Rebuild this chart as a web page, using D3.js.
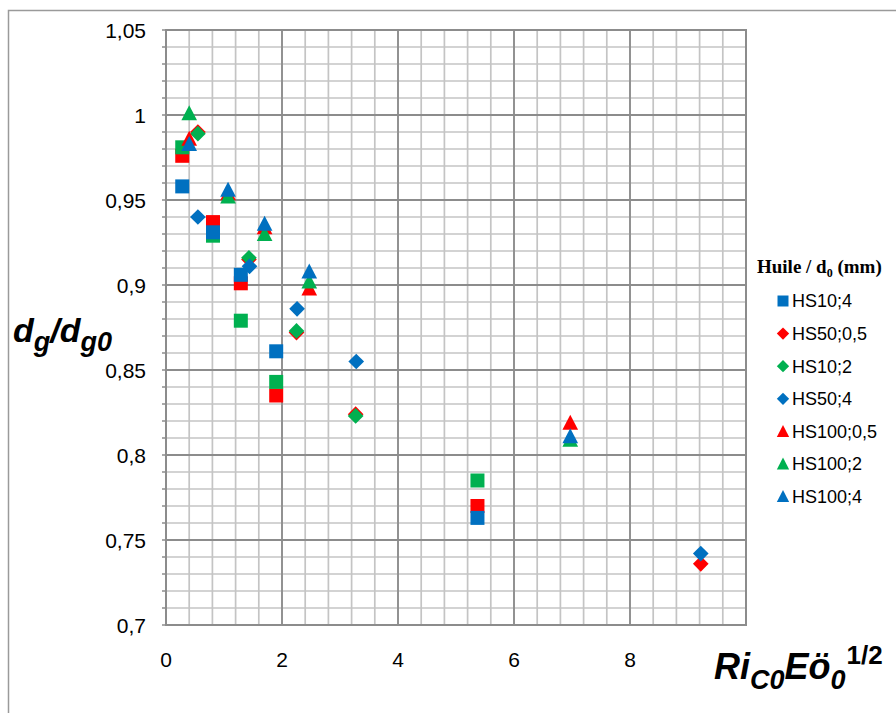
<!DOCTYPE html>
<html><head><meta charset="utf-8">
<script src="https://cdn.jsdelivr.net/npm/d3@7"></script>
<style>body{margin:0;background:#fff}svg{display:block}</style>
</head><body>
<svg id="c" width="896" height="713"></svg>
<script>
// ---- data ----
const xTicks = [0, 2, 4, 6, 8];
const xTickLabels = ["0", "2", "4", "6", "8"];
const yTicks = [0.7, 0.75, 0.8, 0.85, 0.9, 0.95, 1, 1.05];
const yTickLabels = ["0,7", "0,75", "0,8", "0,85", "0,9", "0,95", "1", "1,05"];

// squares
const xSquares = [0.28, 0.81, 1.29, 1.90, 5.37];
const ySqRed = [0.976, 0.937, 0.901, 0.835, 0.770];
const ySqGreen = [0.981, 0.929, 0.879, 0.843, 0.785];
const yHS10_4 = [0.958, 0.931, 0.906, 0.861, 0.763];
// diamonds
const xDiamonds = [0.55, 1.43, 2.25, 3.27, 9.22];
const yHS50_05 = [0.990, 0.915, 0.872, 0.824, 0.736];
const yHS10_2 = [0.989, 0.916, 0.873, 0.823];
const xHS50_4 = [0.55, 1.44, 2.26, 3.28, 9.22];
const yHS50_4 = [0.940, 0.911, 0.886, 0.855, 0.742];
// triangles
const xTriangles = [0.40, 1.07, 1.70, 2.47, 6.97];
const yHS100_05 = [0.986, 0.954, 0.934, 0.898, 0.819];
const yHS100_2 = [1.001, 0.952, 0.930, 0.902, 0.809];
const yHS100_4 = [0.983, 0.956, 0.936, 0.908, 0.811];

const legendNames = ["HS10;4", "HS50;0,5", "HS10;2", "HS50;4", "HS100;0,5", "HS100;2", "HS100;4"];
const legendShapes = ["square", "diamond", "diamond", "diamond", "triangle", "triangle", "triangle"];
const legendColors = ["#0070C0", "#FF0000", "#00B050", "#0070C0", "#FF0000", "#00B050", "#0070C0"];

const RED = "#FF0000", GREEN = "#00B050", BLUE = "#0070C0";
// drawing order (later on top)
const series = [
  {xs: xSquares, ys: ySqRed, shape: "square", color: RED},
  {xs: xSquares, ys: ySqGreen, shape: "square", color: GREEN},
  {xs: xSquares, ys: yHS10_4, shape: "square", color: BLUE},
  {xs: xDiamonds, ys: yHS50_05, shape: "diamond", color: RED},
  {xs: xDiamonds, ys: yHS10_2, shape: "diamond", color: GREEN},
  {xs: xHS50_4, ys: yHS50_4, shape: "diamond", color: BLUE},
  {xs: xTriangles, ys: yHS100_05, shape: "triangle", color: RED},
  {xs: xTriangles, ys: yHS100_2, shape: "triangle", color: GREEN},
  {xs: xTriangles, ys: yHS100_4, shape: "triangle", color: BLUE}
];

// ---- layout ----
const L = 166, R = 746, T = 30, B = 625;
const svg = d3.select("#c");
const x = d3.scaleLinear().domain([0, 10]).range([L, R]);
const y = d3.scaleLinear().domain([0.7, 1.05]).range([B, T]);

// outer chart border
svg.append("rect").attr("x", 8.5).attr("y", 10.5).attr("width", 920).attr("height", 730)
  .attr("fill", "none").attr("stroke", "#9a9a9a").attr("stroke-width", 1.5);

// minor grid
const g = svg.append("g");
const xMinor = d3.range(0, 10.0001, 0.4);
const yMinor = d3.range(0.7, 1.0501, 0.01);
g.selectAll(".vx").data(xMinor).join("line")
  .attr("x1", d => x(d)).attr("x2", d => x(d)).attr("y1", T).attr("y2", B)
  .attr("stroke", "#c4c4c4").attr("stroke-width", 1.7);
g.selectAll(".hy").data(yMinor).join("line")
  .attr("y1", d => y(d)).attr("y2", d => y(d)).attr("x1", L).attr("x2", R)
  .attr("stroke", "#c4c4c4").attr("stroke-width", 1.7);
// major grid
g.selectAll(".vX").data(d3.range(0, 10.001, 2)).join("line")
  .attr("x1", d => x(d)).attr("x2", d => x(d)).attr("y1", T).attr("y2", B)
  .attr("stroke", "#8c8c8c").attr("stroke-width", 1.8);
g.selectAll(".hY").data(yTicks).join("line")
  .attr("y1", d => y(d)).attr("y2", d => y(d)).attr("x1", L).attr("x2", R)
  .attr("stroke", "#8c8c8c").attr("stroke-width", 1.8);
// y minor ticks
g.selectAll(".tk").data(yMinor).join("line")
  .attr("y1", d => y(d)).attr("y2", d => y(d)).attr("x1", L - 4).attr("x2", L)
  .attr("stroke", "#8c8c8c").attr("stroke-width", 1.5);
// frame
svg.append("rect").attr("x", L).attr("y", T).attr("width", R - L).attr("height", B - T)
  .attr("fill", "none").attr("stroke", "#8c8c8c").attr("stroke-width", 2);

// axis labels
const tf = "'Liberation Sans', Arial, sans-serif";
svg.append("g").selectAll("text").data(yTicks).join("text")
  .attr("x", 146).attr("y", d => y(d)).attr("dy", "0.36em")
  .attr("text-anchor", "end").attr("font-family", tf).attr("font-size", 21)
  .text((d, i) => yTickLabels[i]);
svg.append("g").selectAll("text").data(xTicks).join("text")
  .attr("x", d => x(d)).attr("y", 667)
  .attr("text-anchor", "middle").attr("font-family", tf).attr("font-size", 21)
  .text((d, i) => xTickLabels[i]);

// marker paths
function markerPath(shape, s) {
  if (shape === "square") { const h = s / 2; return `M${-h},${-h}H${h}V${h}H${-h}Z`; }
  if (shape === "diamond") { const h = s * 0.56; return `M0,${-h}L${h},0L0,${h}L${-h},0Z`; }
  const w = s * 0.56, hh = s * 0.5;
  return `M0,${-hh - 1}L${w},${hh}L${-w},${hh}Z`;
}

// points
series.forEach(sr => {
  svg.append("g").selectAll("path").data(sr.ys).join("path")
    .attr("transform", (d, i) => `translate(${x(sr.xs[i])},${y(d)})`)
    .attr("d", markerPath(sr.shape, 14)).attr("fill", sr.color);
});

// axis titles
const bi = "'Liberation Sans', Arial, sans-serif";
const yl = svg.append("text").attr("x", 13).attr("y", 342)
  .attr("font-family", bi).attr("font-weight", "bold").attr("font-style", "italic").attr("font-size", 34);
yl.append("tspan").text("d");
yl.append("tspan").attr("font-size", 27).attr("dy", 9).text("g");
yl.append("tspan").attr("dy", -9).text("/d");
yl.append("tspan").attr("font-size", 27).attr("dy", 9).text("g0");

const xl = svg.append("text").attr("x", 714).attr("y", 679)
  .attr("font-family", bi).attr("font-weight", "bold").attr("font-style", "italic").attr("font-size", 36);
xl.append("tspan").text("Ri");
xl.append("tspan").attr("font-size", 27).attr("dy", 10).text("C0");
xl.append("tspan").attr("dy", -10).text("Eö");
xl.append("tspan").attr("font-size", 27).attr("dy", 10).text("0");
xl.append("tspan").attr("font-size", 26).attr("font-style", "normal").attr("dy", -25).attr("dx", 1).text("1/2");

// legend
const lt = svg.append("text").attr("x", 757).attr("y", 273)
  .attr("font-family", "'Liberation Serif', 'Times New Roman', serif").attr("font-weight", "bold").attr("font-size", 19);
lt.append("tspan").text("Huile / d");
lt.append("tspan").attr("font-size", 12).attr("dy", 4).text("0");
lt.append("tspan").attr("dy", -4).text(" (mm)");

const lg = svg.append("g").selectAll("g").data(legendNames).join("g")
  .attr("transform", (d, i) => `translate(0,${301 + i * 32.6})`);
lg.append("path").attr("transform", "translate(783,0)")
  .attr("d", (d, i) => markerPath(legendShapes[i], 11)).attr("fill", (d, i) => legendColors[i]);
lg.append("text").attr("x", 792).attr("dy", "0.36em")
  .attr("font-family", tf).attr("font-size", 18).text(d => d);
</script>
</body></html>
